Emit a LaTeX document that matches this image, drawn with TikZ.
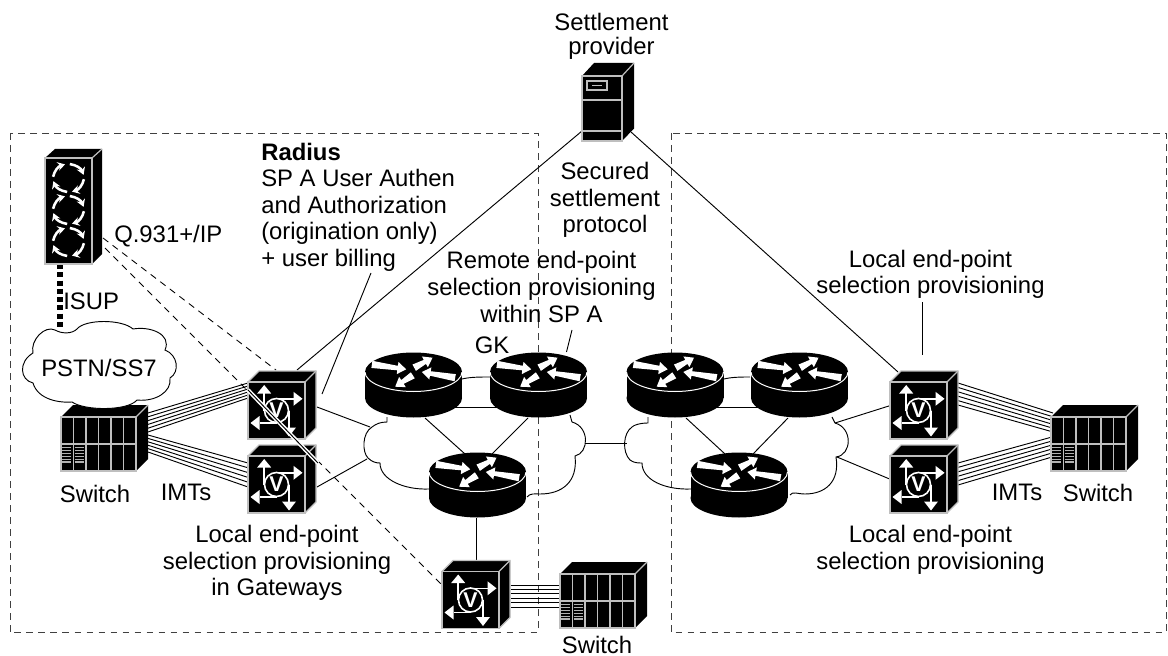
\documentclass[tikz,border=0pt]{standalone}
\usepackage{fontspec}
\setmainfont{Liberation Sans}
\usetikzlibrary{calc,arrows.meta}
\newcommand\rarrow[2]{%
  \coordinate (neck) at ($(#2)!6.5pt!(#1)$);
  \fill[white] ($(#1)!2.7pt!90:(#2)$) -- ($(neck)!1.7pt!90:(#2)$) -- ($(neck)!4.6pt!90:(#2)$) -- (#2)
    -- ($(neck)!4.6pt!-90:(#2)$) -- ($(neck)!1.7pt!-90:(#2)$) -- ($(#1)!2.7pt!-90:(#2)$) -- cycle;}
\newcommand\bundle[8]{%
  \foreach \t in {0,...,5}{
    \draw[link] ($(#1)+(#2,{#3+\t*#4})$) -- ($(#5)+(#6,{#7+\t*#8})$);}}
\tikzset{
  x=0.75pt,y=-0.75pt,
  link/.style={line width=0.7pt,black},
  dashlink/.style={line width=0.65pt,dash pattern=on 5pt off 4pt},
  zone/.style={line width=0.7pt,black!75,dash pattern=on 5pt off 4pt},
  edge/.style={line width=0.9pt,black!25},
  cloudline/.style={line width=0.7pt,black},
  devbox/.style={inner sep=0pt,minimum size=0pt},
  lbl/.style={align=center,inner sep=0pt,font=\fontsize{17.9}{19.9}\selectfont},
  gateway/.pic={
    \fill[black] (-28.5,-28.5) -- (-17.5,-39.5) -- (39.5,-39.5) -- (39.5,17.5) -- (28.5,28.5) -- (-28.5,28.5) -- cycle;
    \draw[edge] (-28.5,-28.5) rectangle (28.5,28.5);
    \draw[edge] (28.5,-28.5) -- (39.5,-39.5);
    \draw[edge] (-28.5,-28.5) -- (-17.5,-39.5) -- (39.5,-39.5) -- (39.5,17.5) -- (28.5,28.5);
    \draw[white,line width=1.1pt] (-12.3,0) -- (-12.3,-18);
    \draw[white,line width=1.1pt] (0,-11.7) -- (17,-11.7);
    \draw[white,line width=1.1pt] (0,12.5) -- (-17,12.5);
    \draw[white,line width=1.1pt] (12.5,0) -- (12.5,17);
    \fill[white] (-12.3,-25.5) -- (-19.3,-17) -- (-5.3,-17) -- cycle;
    \fill[white] (26,-11.7) -- (17,-18.7) -- (17,-4.7) -- cycle;
    \fill[white] (-26,12.5) -- (-17,5.5) -- (-17,19.5) -- cycle;
    \fill[white] (12.5,26) -- (5.5,17) -- (19.5,17) -- cycle;
    \draw[white,line width=1.2pt,fill=black] (0,0) circle[radius=12];
    \node[inner sep=0pt,text=white,font=\fontsize{16}{16}\selectfont\bfseries] (vmark) at (0,0) {V};
  },
  router/.pic={
    \fill[black] (0,0) ellipse[x radius=48.5,y radius=19.5];
    \fill[black] (-48.5,0) rectangle (48.5,26);
    \fill[black] (0,26) ellipse[x radius=48.5,y radius=19.5];
    \begin{scope}
      \clip (-50,0) rectangle (50,25);
      \draw[white,line width=0.75pt] (0,0) ellipse[x radius=48.5,y radius=19.5];
    \end{scope}
    \rarrow{-41.6,-7.6}{-7.3,-2.7}
    \rarrow{0.7,-4.3}{19,-14.3}
    \rarrow{41.7,5.7}{8.3,0}
    \rarrow{-0.7,3.3}{-18.3,14.7}
  },
  softswitch/.pic={
    \fill[black] (-23.5,-53) -- (-13.5,-62) -- (33.5,-62) -- (33.5,43) -- (23.5,53) -- (-23.5,53) -- cycle;
    \draw[edge] (-23.5,-53) rectangle (23.5,53);
    \draw[edge] (23.5,-53) -- (33.5,-62);
    \foreach \cy in {-33,-1,31}{
      \foreach \a in {5,95,185,275}{
        \draw[white,line width=1.9pt,-{Stealth[length=5.5pt,width=6.5pt]}]
          ($(0,\cy)+(\a:15.5 and 14)$) to[bend left=30] ($(0,\cy)+({\a+72}:15.5 and 14)$);
      }
    }
  },
  server/.pic={
    \fill[black] (-20,-32.5) -- (-8,-45.5) -- (32,-45.5) -- (32,20) -- (20,32.5) -- (-20,32.5) -- cycle;
    \draw[edge] (-20,-32.5) rectangle (20,32.5);
    \draw[edge] (20,-32.5) -- (32,-45.5);
    \draw[edge] (-20,-8.5) -- (20,-8.5);
    \draw[edge] (-20,22.5) -- (20,22.5);
    \draw[edge] (-15,-27.5) rectangle (5,-18.5);
    \draw[edge] (-10,-23) -- (0,-23);
  },
  switchbox/.pic={
    \fill[black] (-37.5,-27) -- (-25.5,-39) -- (49.5,-39) -- (49.5,15) -- (37.5,27) -- (-37.5,27) -- cycle;
    \draw[edge] (-37.5,-27) rectangle (37.5,27);
    \draw[edge] (37.5,-27) -- (49.5,-39);
    \foreach \c in {-25,-12.5,0,12.5,25}{\draw[edge] (\c,-27) -- (\c,27);}
    \draw[edge] (-37.5,0) -- (37.5,0);
    \foreach \c in {-36.5,-24}{
      \foreach \b in {3.5,6.5,9.5,12.5,15.5,18}{
        \draw[line width=0.8pt,black!30] (\c,\b) -- (\c+9,\b);}}
  }
}
\begin{document}
\begin{tikzpicture}
\useasboundingbox (0,0) rectangle (1168,656);
\fill[white] (0,0) rectangle (1168,656);

% device anchors
\node[devbox] (srv) at (602,108.5) {};
\node[devbox] (soft) at (68.5,211) {};
\node[devbox] (gwA) at (276.5,410.5) {};
\node[devbox] (gwB) at (276.5,484.5) {};
\node[devbox] (gwC) at (470.5,600) {};
\node[devbox] (gwD) at (918.5,410.5) {};
\node[devbox] (gwE) at (918.5,484.5) {};
\node[devbox] (swL) at (98.5,444) {};
\node[devbox] (swR) at (1088.5,444) {};
\node[devbox] (swB) at (597.5,601) {};
\node[devbox] (r1) at (413.5,372) {};
\node[devbox] (r2) at (538.5,372) {};
\node[devbox] (r3) at (477.5,472) {};
\node[devbox] (r4) at (675,372) {};
\node[devbox] (r5) at (799.5,372) {};
\node[devbox] (r6) at (739,472) {};

% free connector ends
\coordinate (cLw1) at (370,427);
\coordinate (cLw2) at (367,459);
\coordinate (cLe) at (585,443);
\coordinate (cRw) at (627,443);
\coordinate (cRe1) at (835,423);
\coordinate (cRe2) at (837,457);
\coordinate (pstnTop) at (60,330);
\coordinate (radiusTail) at (371,273);
\coordinate (remoteTail) at (572,330);
\coordinate (localTail) at (922,302);

% zones
\draw[zone] (10,133) rectangle (538,632.5);
\draw[zone] (671,133) rectangle (1166,632.5);

% connectors
\draw[link] ($(srv)+(-20,22.5)$) -- ($(gwA)+(20.5,-40.5)$);
\draw[link] ($(srv)+(29,23.5)$) -- ($(gwD)+(-20.5,-38.5)$);
\draw[link] ($(gwA)+(40.5,-3.5)$) -- (cLw1);
\draw[link] ($(gwB)+(40.5,2.5)$) -- (cLw2);
\draw[link] (cRe1) -- ($(gwD)+(-26.5,-5.5)$);
\draw[link] (cRe2) -- ($(gwE)+(-26.5,-4.5)$);
\draw[link] (cLe) -- (cRw);
\draw[link] ($(r1)+(11.5,46)$) -- ($(r3)+(-12.5,-18)$);
\draw[link] ($(r2)+(-10.5,46)$) -- ($(r3)+(14.5,-18)$);
\draw[link] ($(r4)+(11,46)$) -- ($(r6)+(-14,-18)$);
\draw[link] ($(r5)+(-11.5,46)$) -- ($(r6)+(14,-18)$);
\draw[link] ($(r1)+(40,35)$) -- ($(r2)+(-40,35)$);
\draw[link] ($(r4)+(40,35)$) -- ($(r5)+(-40,35)$);
\draw[link] ($(r3)+(-1.5,46)$) -- ($(gwC)+(5.5,-39)$);
\draw[link] (radiusTail) -- ($(gwA)+(45.5,-16.5)$);
\draw[link] (remoteTail) -- ($(r2)+(28,-20)$);
\draw[link] (localTail) -- ($(gwD)+(3.5,-55.5)$);
\draw[line width=3.8pt,dash pattern=on 3.8pt off 2.4pt] ($(soft)+(-8.5,53)$) -- (pstnTop);
\draw[dashlink] ($(soft)+(34.5,27)$) -- ($(gwA)+(-0.5,-40.5)$);
\draw[dashlink] ($(soft)+(36.5,37)$) -- ($(gwC)+(-29.5,-16)$);

% bundles
\bundle{swL}{49.5}{-31}{3.8}{gwA}{-28.5}{-27.5}{3}
\bundle{swL}{49.5}{-9}{3.4}{gwB}{-28.5}{-21.5}{4.8}
\bundle{gwC}{40.5}{-15}{4.4}{swB}{-37.5}{-16}{4.4}
\bundle{gwD}{39.5}{-27.5}{4.4}{swR}{-35.5}{-31}{3.8}
\bundle{gwE}{39.5}{-21.5}{4.4}{swR}{-36.5}{-7}{4}

% core clouds
\draw[cloudline] (387,417) -- (387,422) .. controls (380,422) and (376,424) .. (372,427)
  .. controls (362,433) and (362,452) .. (368,458) .. controls (372,462) and (376,463) .. (380,463)
  .. controls (380,480) and (405,490) .. (429,489);
\draw[cloudline] (527,497) .. controls (530,493) and (535,494) .. (540,494)
  .. controls (562,494) and (578,482) .. (575,456) .. controls (589,453) and (590,427) .. (572,422) -- (570,415);
\draw[cloudline] (462,379) .. controls (470,377) and (480,377) .. (490,377);
\draw[cloudline] (648,417) -- (648,423) .. controls (640,423) and (634,425) .. (632,427)
  .. controls (623,433) and (622,452) .. (630,460) .. controls (634,463) and (638,463) .. (642,463)
  .. controls (642,480) and (665,490) .. (691,489);
\draw[cloudline] (790,495) .. controls (793,491) and (797,494) .. (805,494)
  .. controls (825,494) and (840,482) .. (836,457) .. controls (852,455) and (853,428) .. (835,423) -- (832,417);
\draw[cloudline] (724,379) .. controls (732,377) and (742,377) .. (750,377);

% devices
\pic at (srv) {server};
\pic at (soft) {softswitch};
\pic at (swL) {switchbox};
\pic at (swR) {switchbox};
\pic at (swB) {switchbox};
\pic at (r1) {router};
\pic at (r2) {router};
\pic at (r3) {router};
\pic at (r4) {router};
\pic at (r5) {router};
\pic at (r6) {router};
\pic at (gwA) {gateway};
\pic at (gwB) {gateway};
\pic at (gwC) {gateway};
\pic at (gwD) {gateway};
\pic at (gwE) {gateway};

% signalling line crossing the gateways
\draw[white,line width=3pt] ($(gwA)+(-28.5,-20.5)$) -- ($(gwB)+(41.5,-21.5)$);
\draw[black,line width=0.7pt] ($(gwA)+(-28.5,-20.5)$) -- ($(gwB)+(41.5,-21.5)$);

% PSTN cloud
\draw[cloudline,fill=white] (77,329) .. controls (85,319) and (122,319) .. (133,329)
  .. controls (150,326) and (172,334) .. (165,350) .. controls (178,355) and (180,372) .. (170,378)
  .. controls (172,392) and (155,402) .. (137,400) .. controls (128,411) and (85,411) .. (72,402)
  .. controls (60,403) and (38,400) .. (33,383) .. controls (20,380) and (18,362) .. (33,353)
  .. controls (30,340) and (45,325) .. (55,330) .. controls (62,334) and (72,334) .. (77,329) -- cycle;

% labels
\node[lbl,font=\fontsize{17.9}{17.7}\selectfont] (lblSettle) at (611.5,36.5) {Settlement\\provider};
\node[lbl,align=left,anchor=west] (lblRadius) at (261,207) {\textbf{Radius}\\SP A User Authen\\and Authorization\\(origination only)\\+ user billing};
\node[lbl] (lblSecured) at (605,200) {Secured\\settlement\\protocol};
\node[lbl] (lblRemote) at (541.5,287) {Remote end-point\\selection provisioning\\within SP A};
\node[lbl] (lblGK) at (492,345) {GK};
\node[lbl] (lblLocalTop) at (930.5,274.5) {Local end-point\\selection provisioning};
\node[lbl] (lblLocalBot) at (930.5,549.8) {Local end-point\\selection provisioning};
\node[lbl] (lblGate) at (277,563) {Local end-point\\selection provisioning\\in Gateways};
\node[lbl] (lblSwL) at (95,494) {Switch};
\node[lbl] (lblImtL) at (186,492) {IMTs};
\node[lbl] (lblSwB) at (597,644.5) {Switch};
\node[lbl] (lblImtR) at (1017,492) {IMTs};
\node[lbl] (lblSwR) at (1098,493) {Switch};
\node[lbl] (lblPstn) at (99,368) {PSTN/SS7};
\node[lbl,anchor=west] (lblQ) at (114,236) {Q.931+/IP};
\node[lbl,anchor=west] (lblIsup) at (63,301) {ISUP};
\end{tikzpicture}
\end{document}
